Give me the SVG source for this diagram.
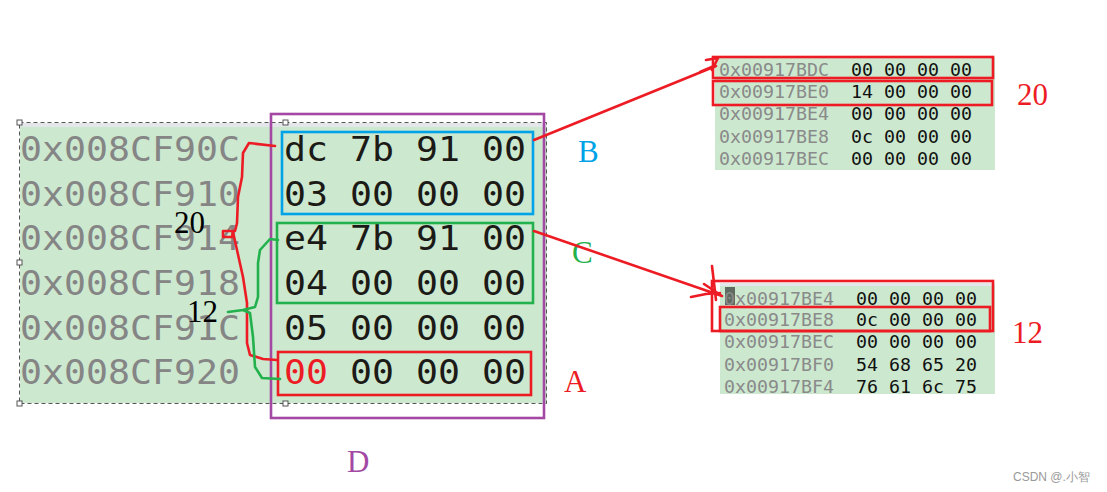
<svg xmlns="http://www.w3.org/2000/svg" width="1107" height="492" viewBox="0 0 1107 492">
<style>
.bg{fill:#cce8cf}
.band{fill:#e4e7ea}
.addrL{font-family:"DejaVu Sans Mono",monospace;font-size:33px;fill:#858585}
.hexL{font-family:"DejaVu Sans Mono",monospace;font-size:33px;fill:#1c1a16}
.addrS{font-family:"DejaVu Sans Mono",monospace;font-size:17px;fill:#8a8a8a}
.hexS{font-family:"DejaVu Sans Mono",monospace;font-size:17px;fill:#111}
.box{fill:none;stroke-width:2.6}
.lbl{font-family:"Liberation Serif",serif;font-size:31px}
.hand{fill:none;stroke-width:2.6;stroke-linecap:round;stroke-linejoin:round}
.handle{fill:#fff;stroke:#555;stroke-width:1}
</style>
<rect width="1107" height="492" fill="#fff"/>

<g id="left-panel">
<rect class="band" x="20" y="123" width="527" height="5"/>
<rect class="bg" x="20" y="127" width="527" height="276"/>
<rect x="19.5" y="122.5" width="527" height="281" fill="none" stroke="#555" stroke-width="1" stroke-dasharray="4,3"/>
<rect class="handle" x="17" y="120" width="5" height="5"/>
<rect class="handle" x="283" y="120" width="5" height="5"/>
<rect class="handle" x="17" y="260" width="5" height="5"/>
<rect class="handle" x="17" y="401" width="5" height="5"/>
<rect class="handle" x="283" y="401" width="5" height="5"/>
<text class="addrL" x="20" y="161" textLength="220" lengthAdjust="spacingAndGlyphs">0x008CF90C</text>
<text class="addrL" x="20" y="206" textLength="220" lengthAdjust="spacingAndGlyphs">0x008CF910</text>
<text class="addrL" x="20" y="250" textLength="220" lengthAdjust="spacingAndGlyphs">0x008CF914</text>
<text class="addrL" x="20" y="295" textLength="220" lengthAdjust="spacingAndGlyphs">0x008CF918</text>
<text class="addrL" x="20" y="340" textLength="220" lengthAdjust="spacingAndGlyphs">0x008CF91C</text>
<text class="addrL" x="20" y="384" textLength="220" lengthAdjust="spacingAndGlyphs">0x008CF920</text>
<text class="hexL" x="284" y="161" textLength="242" lengthAdjust="spacingAndGlyphs">dc 7b 91 00</text>
<text class="hexL" x="284" y="206" textLength="242" lengthAdjust="spacingAndGlyphs">03 00 00 00</text>
<text class="hexL" x="284" y="250" textLength="242" lengthAdjust="spacingAndGlyphs">e4 7b 91 00</text>
<text class="hexL" x="284" y="295" textLength="242" lengthAdjust="spacingAndGlyphs">04 00 00 00</text>
<text class="hexL" x="284" y="340" textLength="242" lengthAdjust="spacingAndGlyphs">05 00 00 00</text>
<text class="hexL" x="284" y="384" textLength="242" lengthAdjust="spacingAndGlyphs"><tspan fill="#ed1c24">00</tspan> 00 00 00</text>
</g>

<g id="box-B">
<rect class="box" x="282" y="132" width="251" height="82" stroke="#00a2e8"/>
<text class="lbl" x="578" y="162" fill="#00a2e8">B</text>
</g>
<g id="box-C">
<rect class="box" x="277" y="223" width="256" height="80" stroke="#22b14c"/>
<text class="lbl" x="572" y="263" fill="#22b14c">C</text>
</g>
<g id="box-A">
<rect class="box" x="278" y="352" width="253" height="43" stroke="#ed1c24"/>
<text class="lbl" x="564" y="392" fill="#ed1c24">A</text>
</g>
<g id="box-D">
<rect class="box" x="271" y="114" width="273" height="304" stroke="#a349a4"/>
<text class="lbl" x="347" y="472" fill="#a349a4">D</text>
</g>

<g id="brace-20">
<path class="hand" stroke="#ed1c24" d="M275,146 L249,143 L243,153 L242,177 L238,197 L237,223 L235,231 L223,231 L223,237 L232,237 L233,232 L237,250 L243,277 L247,303 L247,343 L250,355 L263,359 L277,360"/>
<text class="lbl" x="174" y="233" fill="#000">20</text>
</g>
<g id="brace-12">
<path class="hand" stroke="#22b14c" d="M278,240 L270,239 L260,250 L258,263 L258,297 L255,307 L243,310 L228,312 M243,310 L250,313 L253,337 L255,367 L262,378 L280,379"/>
<text class="lbl" x="187" y="322" fill="#000">12</text>
</g>

<g id="panel-20">
<rect class="bg" x="715" y="57" width="280" height="113"/>
<text class="addrS" x="719" y="76" textLength="110" lengthAdjust="spacingAndGlyphs">0x00917BDC</text>
<text class="addrS" x="719" y="98" textLength="110" lengthAdjust="spacingAndGlyphs">0x00917BE0</text>
<text class="addrS" x="719" y="120" textLength="110" lengthAdjust="spacingAndGlyphs">0x00917BE4</text>
<text class="addrS" x="719" y="143" textLength="110" lengthAdjust="spacingAndGlyphs">0x00917BE8</text>
<text class="addrS" x="719" y="165" textLength="110" lengthAdjust="spacingAndGlyphs">0x00917BEC</text>
<text class="hexS" x="851" y="76" textLength="121" lengthAdjust="spacingAndGlyphs">00 00 00 00</text>
<text class="hexS" x="851" y="98" textLength="121" lengthAdjust="spacingAndGlyphs">14 00 00 00</text>
<text class="hexS" x="851" y="120" textLength="121" lengthAdjust="spacingAndGlyphs">00 00 00 00</text>
<text class="hexS" x="851" y="143" textLength="121" lengthAdjust="spacingAndGlyphs">0c 00 00 00</text>
<text class="hexS" x="851" y="165" textLength="121" lengthAdjust="spacingAndGlyphs">00 00 00 00</text>
<rect class="box" x="713" y="57" width="280" height="21" stroke="#ed1c24"/>
<rect class="box" x="713" y="81" width="279" height="24" stroke="#ed1c24"/>
<text class="lbl" x="1017" y="105" fill="#ed1c24">20</text>
</g>

<g id="panel-12">
<rect class="band" x="720" y="283" width="275" height="4"/>
<rect class="bg" x="720" y="286" width="275" height="108"/>
<rect x="725" y="287" width="10" height="18" fill="#5f6b60"/>
<text class="addrS" x="724" y="305" textLength="110" lengthAdjust="spacingAndGlyphs">0x00917BE4</text>
<text class="addrS" x="724" y="326" textLength="110" lengthAdjust="spacingAndGlyphs">0x00917BE8</text>
<text class="addrS" x="724" y="348" textLength="110" lengthAdjust="spacingAndGlyphs">0x00917BEC</text>
<text class="addrS" x="724" y="371" textLength="110" lengthAdjust="spacingAndGlyphs">0x00917BF0</text>
<text class="addrS" x="724" y="393" textLength="110" lengthAdjust="spacingAndGlyphs">0x00917BF4</text>
<text class="hexS" x="856" y="305" textLength="121" lengthAdjust="spacingAndGlyphs">00 00 00 00</text>
<text class="hexS" x="856" y="326" textLength="121" lengthAdjust="spacingAndGlyphs">0c 00 00 00</text>
<text class="hexS" x="856" y="348" textLength="121" lengthAdjust="spacingAndGlyphs">00 00 00 00</text>
<text class="hexS" x="856" y="371" textLength="121" lengthAdjust="spacingAndGlyphs">54 68 65 20</text>
<text class="hexS" x="856" y="393" textLength="121" lengthAdjust="spacingAndGlyphs">76 61 6c 75</text>
<rect class="box" x="712" y="281" width="281" height="50" stroke="#ed1c24"/>
<rect class="box" x="720" y="307" width="270" height="24" stroke="#ed1c24"/>
<text class="lbl" x="1012" y="343" fill="#ed1c24">12</text>
</g>

<g id="connectors">
<path class="hand" stroke="#ed1c24" d="M534,140 L716,66 M706,60 L718,58 L712,70 M700,72 L714,66"/>
<path class="hand" stroke="#ed1c24" d="M534,231 L722,296 M712,266 L716,300 M691,297 L706,294 L720,293 M704,284 L722,296"/>
</g>

<text x="1013" y="481" font-family="Liberation Sans,sans-serif" font-size="12" fill="#999">CSDN @.小智</text>
</svg>
